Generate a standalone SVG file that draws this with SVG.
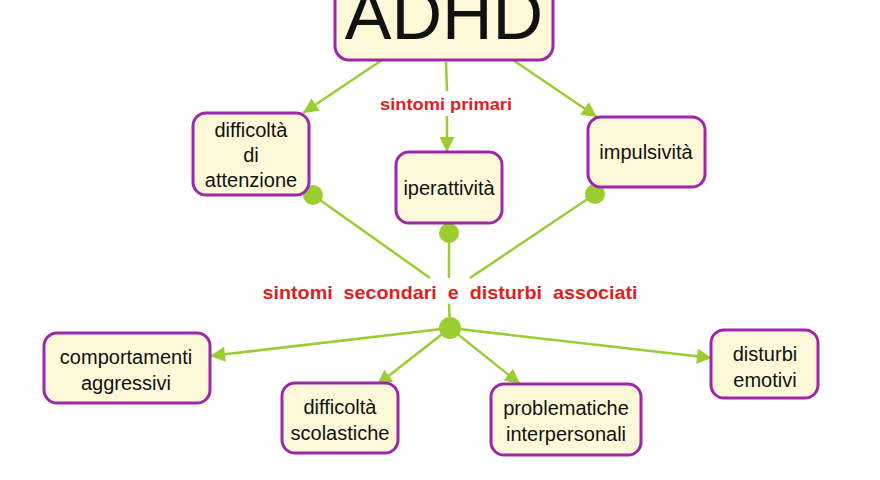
<svg xmlns="http://www.w3.org/2000/svg" width="880" height="480" viewBox="0 0 880 480">
<defs>
<style>
.box{fill:#FDF8D8;stroke:#9C27A8;stroke-width:3}
.t{font-family:"Liberation Sans",Arial,sans-serif;font-size:20px;fill:#111;text-anchor:middle}
.lbl{font-family:"Liberation Sans",Arial,sans-serif;font-size:19px;font-weight:bold;fill:#E01E1E;text-anchor:middle}
.c{stroke:#9ACD32;stroke-width:2.5;fill:none}
.dot{fill:#9ACD32}
</style>
<marker id="ah" viewBox="0 0 10 10" refX="10" refY="5" markerWidth="16" markerHeight="15" markerUnits="userSpaceOnUse" orient="auto">
<path d="M0,0 L10,5 L0,10 z" fill="#9ACD32"/>
</marker>
</defs>
<rect width="880" height="480" fill="#FFFFFF"/>
<g id="connectors">
<line class="c" x1="382" y1="60" x2="303" y2="113" marker-end="url(#ah)"/>
<line class="c" x1="446" y1="62" x2="447" y2="91"/>
<line class="c" x1="447" y1="116" x2="447" y2="152" marker-end="url(#ah)"/>
<line class="c" x1="513" y1="60" x2="597" y2="117" marker-end="url(#ah)"/>
<line class="c" x1="313" y1="195" x2="430" y2="278"/>
<line class="c" x1="449" y1="233" x2="449" y2="278"/>
<line class="c" x1="595" y1="194" x2="470" y2="278"/>
<line class="c" x1="449" y1="304" x2="450" y2="328"/>
<line class="c" x1="450" y1="328" x2="210" y2="356" marker-end="url(#ah)"/>
<line class="c" x1="450" y1="328" x2="377" y2="385" marker-end="url(#ah)"/>
<line class="c" x1="450" y1="328" x2="520" y2="384" marker-end="url(#ah)"/>
<line class="c" x1="450" y1="328" x2="712" y2="358" marker-end="url(#ah)"/>
<circle class="dot" cx="313" cy="195" r="10"/>
<circle class="dot" cx="449" cy="233" r="10"/>
<circle class="dot" cx="595" cy="194" r="10"/>
<circle class="dot" cx="450" cy="328" r="11"/>
<text class="lbl" x="446" y="110" style="font-size:17px" textLength="132" lengthAdjust="spacingAndGlyphs">sintomi primari</text>
<text class="lbl" x="450" y="299" xml:space="preserve" textLength="375" lengthAdjust="spacingAndGlyphs">sintomi  secondari  e  disturbi  associati</text>
</g>
<g id="adhd">
<rect class="box" x="335" y="-20" width="218" height="80" rx="14"/>
<text class="t" x="444" y="39" style="font-size:70px">ADHD</text>
</g>
<g id="attenzione">
<rect class="box" x="193" y="113" width="116" height="82" rx="13"/>
<text class="t" x="251" y="137">difficoltà</text>
<text class="t" x="251" y="162">di</text>
<text class="t" x="251" y="187">attenzione</text>
</g>
<g id="iperattivita">
<rect class="box" x="396" y="152" width="106" height="71" rx="13"/>
<text class="t" x="449" y="195">iperattività</text>
</g>
<g id="impulsivita">
<rect class="box" x="588" y="117" width="117" height="70" rx="13"/>
<text class="t" x="646" y="159">impulsività</text>
</g>
<g id="comportamenti">
<rect class="box" x="44" y="333" width="166" height="70" rx="13"/>
<text class="t" x="126" y="364">comportamenti</text>
<text class="t" x="126" y="390">aggressivi</text>
</g>
<g id="scolastiche">
<rect class="box" x="282" y="383" width="116" height="70" rx="13"/>
<text class="t" x="340" y="414">difficoltà</text>
<text class="t" x="340" y="440">scolastiche</text>
</g>
<g id="interpersonali">
<rect class="box" x="491" y="384" width="150" height="71" rx="13"/>
<text class="t" x="566" y="415">problematiche</text>
<text class="t" x="566" y="441">interpersonali</text>
</g>
<g id="emotivi">
<rect class="box" x="711" y="330" width="107" height="68" rx="13"/>
<text class="t" x="765" y="361">disturbi</text>
<text class="t" x="765" y="387">emotivi</text>
</g>
</svg>
